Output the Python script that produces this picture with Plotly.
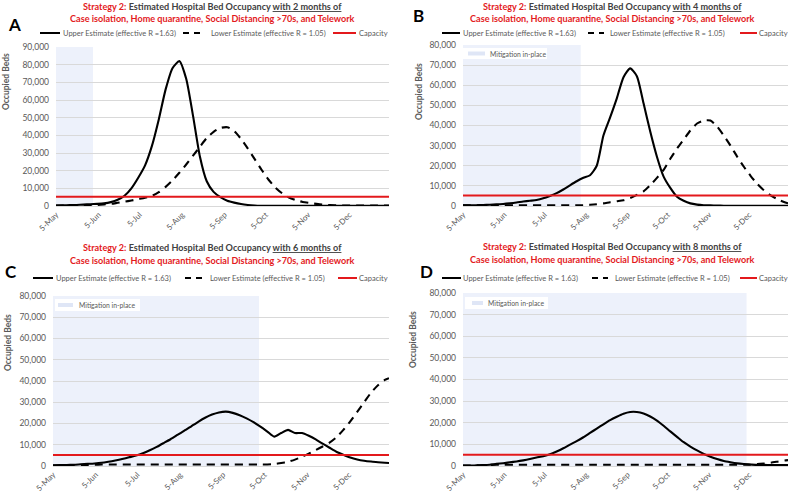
import plotly.graph_objects as go
import pandas as pd

W, H = 793, 492

# ---------------- data ----------------
dates = list(pd.date_range("2020-05-05", "2020-12-31", freq="5D").strftime("%Y-%m-%d")) + ["2021-01-03"]

tick_dates = ["2020-05-05", "2020-06-05", "2020-07-05", "2020-08-05",
              "2020-09-05", "2020-10-05", "2020-11-05", "2020-12-05"]
tick_labels = ["5-May", "5-Jun", "5-Jul", "5-Aug", "5-Sep", "5-Oct", "5-Nov", "5-Dec"]

# values in thousands of occupied beds, every 5 days from 5-May (last point 3-Jan)
upper_a = [0.3, 0.4, 0.5, 0.6, 0.8, 1.0, 1.2, 1.5, 2.2, 3.5,
           5.8, 10, 16, 23, 34, 49, 66, 78, 82, 72,
           51, 28, 14, 8, 5, 3, 1.9, 1.1, 0.6, 0.3,
           0.15, 0.1, 0.1, 0.1, 0.1, 0.1, 0.1, 0.1, 0.1, 0.1,
           0.1, 0.1, 0.1, 0.1, 0.1, 0.1, 0.1, 0.1, 0.1, 0.1]
lower_a = [0.2, 0.2, 0.2, 0.3, 0.3, 0.4, 0.6, 0.9, 1.2, 1.8,
           2.4, 3.1, 3.9, 4.7, 5.7, 7.8, 10.8, 14.5, 18.8, 23.5,
           28.5, 33.5, 38.5, 42, 44.2, 44.6, 42.5, 38, 32.5, 26.5,
           20.5, 15, 10.5, 7.2, 4.8, 3.3, 2.3, 1.7, 1.2, 0.8,
           0.5, 0.4, 0.3, 0.3, 0.3, 0.3, 0.3, 0.3, 0.3, 0.3]
upper_b = [0.3, 0.3, 0.4, 0.5, 0.6, 0.8, 1.0, 1.3, 1.7, 2.2,
           2.6, 3.0, 3.8, 5.0, 6.4, 8.2, 10.3, 12.3, 14.0, 15.3,
           20, 35, 44, 53.5, 64, 68.4, 64.5, 51, 37, 24.5,
           14.6, 9, 4.6, 2.6, 1.3, 0.7, 0.4, 0.3, 0.2, 0.15,
           0.1, 0.1, 0.1, 0.1, 0.1, 0.1, 0.1, 0.1, 0.1, 0.1]
lower_b = [0.3, 0.3, 0.3, 0.3, 0.3, 0.3, 0.3, 0.3, 0.3, 0.3,
           0.3, 0.3, 0.3, 0.3, 0.3, 0.3, 0.3, 0.3, 0.4, 0.6,
           0.9, 1.3, 1.9, 2.4, 2.9, 4.0, 5.5, 7.3, 10.3, 14,
           17.9, 23.5, 28.5, 33, 37.5, 41, 42.5, 42.5, 39.5, 35,
           30, 24.5, 19.5, 15, 11, 7.8, 5.3, 3.4, 2.0, 1.3]
upper_c = [0.3, 0.4, 0.5, 0.6, 0.8, 1.0, 1.2, 1.5, 2.0, 2.6,
           3.3, 4.1, 4.9, 6.0, 7.4, 9.0, 10.8, 12.6, 14.6, 16.6,
           18.7, 20.8, 22.7, 24.2, 25.2, 25.6, 25.0, 23.9, 22.4, 20.6,
           18.5, 16.2, 13.8, 15.5, 17.0, 15.5, 15.5, 14.2, 12.5, 10.5,
           8.6, 6.7, 5.3, 4.0, 3.1, 2.5, 2.1, 1.8, 1.5, 1.4]
lower_c = [0.2, 0.2, 0.3, 0.3, 0.4, 0.5, 0.6, 0.7, 0.7, 0.7,
           0.7, 0.7, 0.7, 0.7, 0.7, 0.7, 0.7, 0.7, 0.7, 0.7,
           0.7, 0.7, 0.7, 0.7, 0.7, 0.7, 0.7, 0.7, 0.7, 0.7,
           0.7, 0.7, 0.9, 1.4, 2.0, 3.0, 4.3, 5.8, 7.5, 9.2,
           11, 13.5, 17, 21, 25.5, 30, 34.5, 38, 40.5, 41.3]
upper_d = [0.2, 0.2, 0.3, 0.4, 0.6, 1.0, 1.3, 1.7, 2.1, 2.6,
           3.2, 3.9, 4.5, 5.4, 6.7, 8.2, 9.9, 11.5, 13.3, 15.3,
           17.3, 19.3, 21.2, 22.8, 24.2, 25.0, 25.0, 24.3, 22.9, 21.0,
           18.6, 16.0, 13.5, 11.0, 9.0, 7.2, 5.6, 4.3, 3.2, 2.3,
           1.7, 1.2, 0.9, 0.7, 0.5, 0.5, 0.4, 0.4, 0.4, 0.4]
lower_d = [0.2, 0.2, 0.3, 0.4, 0.5, 0.6, 0.6, 0.6, 0.6, 0.6,
           0.6, 0.6, 0.6, 0.6, 0.6, 0.6, 0.6, 0.6, 0.6, 0.6,
           0.6, 0.6, 0.6, 0.6, 0.6, 0.6, 0.6, 0.6, 0.6, 0.6,
           0.6, 0.6, 0.6, 0.6, 0.6, 0.6, 0.6, 0.6, 0.6, 0.6,
           0.6, 0.6, 0.6, 0.6, 0.9, 1.1, 1.5, 2.0, 2.5, 2.7]

capacity = 5200
mitigation_end = ["2020-06-01", "2020-08-01", "2020-10-01", "2020-12-03"]
months_text = ["2 months", "4 months", "6 months", "8 months"]
panel_letters = ["A", "B", "C", "D"]
upper_names = ["Upper Estimate (effective R =1.63)", "Upper Estimate (effective R =1.63)",
               "Upper Estimate (effective R = 1.63)", "Upper Estimate (effective R = 1.63)"]
lower_name = "Lower Estimate (effective R = 1.05)"
y_max = [90000, 80000, 80000, 80000]

uppers = [upper_a, upper_b, upper_c, upper_d]
lowers = [lower_a, lower_b, lower_c, lower_d]

# ---------------- layout helpers (pixels -> paper) ----------------
def px(x):
    return x / W

def py(y):
    return 1 - y / H

FONT = "Lato"
GREY = "#595959"
DARK = "#404040"
RED = "#e3191c"
SHADE = "#edf1fb"
SWATCH = "#dfe6f6"

# plot area (pixels): x0, x1, ytop, ybottom
areas = [(56, 389, 47, 206), (463, 788, 45, 206), (53, 389, 296, 466), (463, 788, 293, 466)]
title_pos = [(212, 6, 18), (612, 6, 18), (212, 247, 260), (612, 246, 259)]
letter_pos = [(14, 25), (418, 16), (11, 271), (426, 271)]
ytitle_pos = [(6, 82), (419, 92), (8, 343), (413, 340)]
legend_pos = [
    dict(y=33, solid=(40, 60), t1=61, dash=(183, 203), t2=209, red=(333, 356), t3=357),
    dict(y=33, solid=(442, 460), t1=461, dash=(588, 604), t2=608, red=(740, 757), t3=757),
    dict(y=278, solid=(33, 53), t1=54, dash=(185, 203), t2=208, red=(338, 357), t3=357),
    dict(y=278, solid=(442, 461), t1=461, dash=(592, 608), t2=613, red=(740, 757), t3=757),
]
mit_legend = [None,
              dict(box=(463, 547, 48, 59), sw=(468, 485), t=488, y=53.5),
              dict(box=(55, 140, 299, 311), sw=(58, 73), t=77, y=305),
              dict(box=(465, 548, 297, 309), sw=(472, 483), t=486, y=303)]

fig = go.Figure()
shapes = []
annotations = []
layout_axes = {}

for i in range(4):
    n = i + 1
    xa = "x" if n == 1 else f"x{n}"
    ya = "y" if n == 1 else f"y{n}"
    xkey = "xaxis" if n == 1 else f"xaxis{n}"
    ykey = "yaxis" if n == 1 else f"yaxis{n}"
    x0, x1, yt, yb = areas[i]

    # mitigation shading
    shapes.append(dict(type="rect", xref=xa, yref=f"{ya} domain", x0=dates[0], x1=mitigation_end[i],
                       y0=0, y1=1, fillcolor=SHADE, line=dict(width=0), layer="below"))

    fig.add_trace(go.Scatter(x=dates, y=[v * 1000 for v in uppers[i]], xaxis=xa, yaxis=ya, mode="lines",
                             line=dict(color="black", width=2.1, shape="spline", smoothing=0.6),
                             showlegend=False, hoverinfo="skip"))
    fig.add_trace(go.Scatter(x=dates, y=[v * 1000 for v in lowers[i]], xaxis=xa, yaxis=ya, mode="lines",
                             line=dict(color="black", width=2.1, dash="8px,6px", shape="spline", smoothing=0.6),
                             showlegend=False, hoverinfo="skip"))
    fig.add_trace(go.Scatter(x=[dates[0], dates[-1]], y=[capacity, capacity], xaxis=xa, yaxis=ya,
                             mode="lines", line=dict(color=RED, width=2), showlegend=False, hoverinfo="skip"))

    layout_axes[xkey] = dict(domain=[px(x0), px(x1)], anchor=ya, type="date", automargin=False,
                             range=[dates[0], dates[-1]], tickvals=tick_dates, ticktext=tick_labels,
                             tickangle=-45, tickfont=dict(family=FONT, size=8, color=GREY),
                             showgrid=False, showline=True, linecolor="#d9d9d9", linewidth=1,
                             ticks="", zeroline=False, fixedrange=True)
    layout_axes[ykey] = dict(domain=[py(yb), py(yt)], anchor=xa, range=[0, y_max[i]], dtick=10000,
                             automargin=False,
                             tickformat=",", gridcolor="#d9d9d9", gridwidth=1, showline=False,
                             zeroline=False, ticks="", ticklabelstandoff=6,
                             tickfont=dict(family=FONT, size=8.5, color=GREY), fixedrange=True)

    # titles
    cx, ty1, ty2 = title_pos[i]
    annotations.append(dict(
        text=f"<b><span style='color:{RED}'>Strategy 2:</span> Estimated Hospital Bed Occupancy "
             f"<u>with {months_text[i]} of</u></b>",
        x=px(cx), y=py(ty1), xref="paper", yref="paper", xanchor="center", yanchor="middle",
        showarrow=False, font=dict(family=FONT, size=9.1, color=DARK)))
    annotations.append(dict(
        text="<b>Case isolation, Home quarantine, Social Distancing >70s, and Telework</b>",
        x=px(cx), y=py(ty2), xref="paper", yref="paper", xanchor="center", yanchor="middle",
        showarrow=False, font=dict(family=FONT, size=9.1, color=RED)))
    lx, ly = letter_pos[i]
    annotations.append(dict(text=f"<b>{panel_letters[i]}</b>", x=px(lx), y=py(ly), xref="paper", yref="paper",
                            xanchor="center", yanchor="middle", showarrow=False,
                            font=dict(family=FONT, size=17, color="black")))
    tx, tyy = ytitle_pos[i]
    annotations.append(dict(text="<b>Occupied Beds</b>", x=px(tx), y=py(tyy), xref="paper", yref="paper",
                            xanchor="center", yanchor="middle", textangle=-90, showarrow=False,
                            font=dict(family=FONT, size=8.5, color=GREY)))

    # legend row
    lg = legend_pos[i]
    yy = py(lg["y"])
    shapes.append(dict(type="line", xref="paper", yref="paper", x0=px(lg["solid"][0]), x1=px(lg["solid"][1]),
                       y0=yy, y1=yy, line=dict(color="black", width=2)))
    shapes.append(dict(type="line", xref="paper", yref="paper", x0=px(lg["dash"][0]), x1=px(lg["dash"][1]),
                       y0=yy, y1=yy, line=dict(color="black", width=2, dash="6px,5px")))
    shapes.append(dict(type="line", xref="paper", yref="paper", x0=px(lg["red"][0]), x1=px(lg["red"][1]),
                       y0=yy, y1=yy, line=dict(color=RED, width=2)))
    for key, txt in (("t1", upper_names[i]), ("t2", lower_name), ("t3", "Capacity")):
        annotations.append(dict(text=txt, x=px(lg[key]), y=yy, xref="paper", yref="paper",
                                xanchor="left", yanchor="middle", showarrow=False,
                                font=dict(family=FONT, size=7.5, color=GREY)))

    # mitigation legend
    ml = mit_legend[i]
    if ml:
        bx0, bx1, by0, by1 = ml["box"]
        shapes.append(dict(type="rect", xref="paper", yref="paper", x0=px(bx0), x1=px(bx1),
                           y0=py(by1), y1=py(by0), fillcolor="white", line=dict(width=0), layer="above"))
        shapes.append(dict(type="line", xref="paper", yref="paper", x0=px(ml["sw"][0]), x1=px(ml["sw"][1]),
                           y0=py(ml["y"]), y1=py(ml["y"]), line=dict(color=SWATCH, width=4), layer="above"))
        annotations.append(dict(text="Mitigation in-place", x=px(ml["t"]), y=py(ml["y"]), xref="paper",
                                yref="paper", xanchor="left", yanchor="middle", showarrow=False,
                                font=dict(family=FONT, size=6.8, color=GREY)))

fig.update_layout(width=W, height=H, margin=dict(l=0, r=0, t=0, b=0), paper_bgcolor="white",
                  plot_bgcolor="white", shapes=shapes, annotations=annotations, showlegend=False,
                  font=dict(family=FONT), **layout_axes)

fig.write_html("out.html", config=dict(displayModeBar=False),
               post_script="document.body.style.margin='0';document.body.style.overflow='hidden';")
